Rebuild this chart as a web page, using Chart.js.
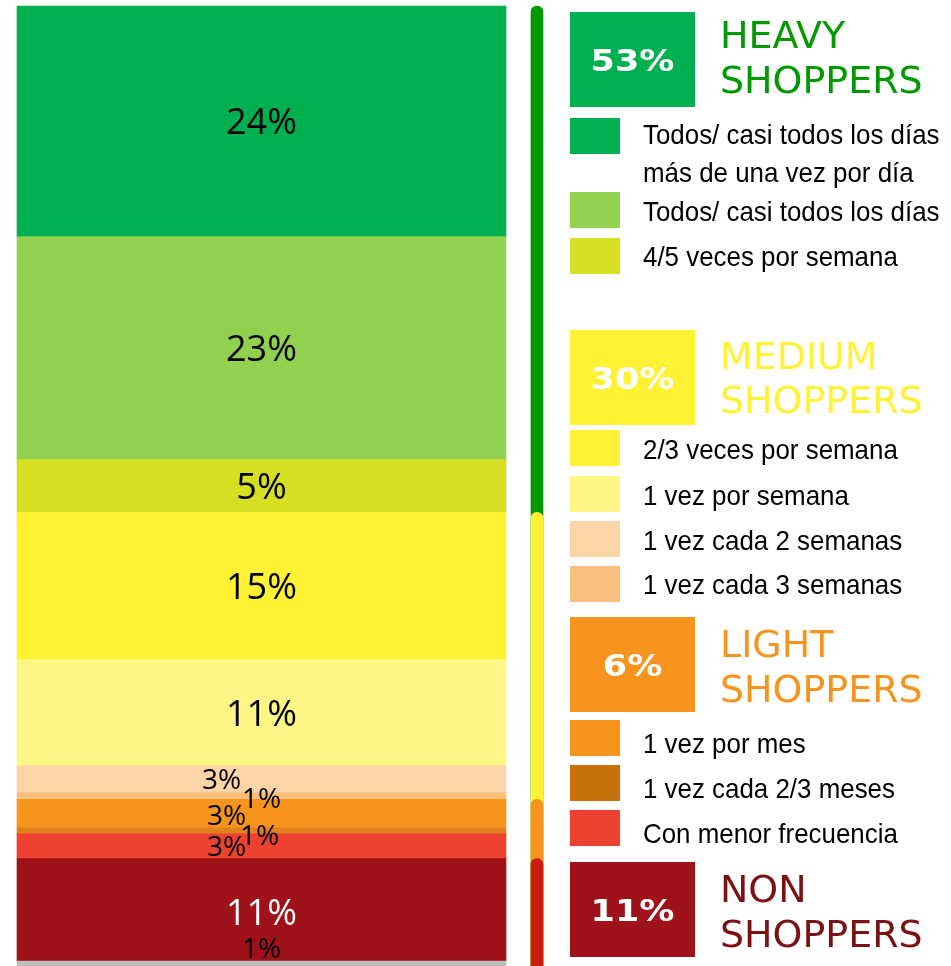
<!DOCTYPE html>
<html>
<head>
<meta charset="utf-8">
<script src="https://cdn.jsdelivr.net/npm/chart.js@4.4.0/dist/chart.umd.min.js"></script>
<style>
  body { margin: 0; background: #fff; }
</style>
</head>
<body>
<canvas id="frecuencia" width="951" height="966"></canvas>
<script>
//DATOS (de arriba hacia abajo, como se ven en la barra)
var categorias = [
    'Todos/ casi todos los días\nmás de una vez por día',
    'Todos/ casi todos los días',
    '4/5 veces por semana',
    '2/3 veces por semana',
    '1 vez por semana',
    '1 vez cada 2 semanas',
    '1 vez cada 3 semanas',
    '1 vez por mes',
    '1 vez cada 2/3 meses',
    'Con menor frecuencia',
    'Non shoppers',
    'Ns/Nc'
];
var valores = [24.1, 23.3, 5.5, 15.4, 11.1, 2.8, 0.7, 3.0, 0.6, 2.6, 10.7, 1.0];
var etiquetas = ['24%', '23%', '5%', '15%', '11%', '3%', '1%', '3%', '1%', '3%', '11%', '1%'];

var grupos = [['HEAVY', 'SHOPPERS'], ['MEDIUM', 'SHOPPERS'], ['LIGHT', 'SHOPPERS'], ['NON', 'SHOPPERS']];
var gruposPct = ['53%', '30%', '6%', '11%'];
var inicioGrupo = [0, 3, 7, 10];   // primer segmento de cada grupo

//COLORES
var colores = ['#00B050', '#92D050', '#D7DF23', '#FFF133', '#FFF685', '#FDD4A6',
               '#F9BF7C', '#F7941D', '#E0811E', '#EE4231', '#A0121A', '#BFBFBF'];
var coloresLeyenda = colores.slice();
coloresLeyenda[8] = '#C8700A';
var colorEtiqueta = ['#000', '#000', '#000', '#000', '#000', '#000', '#000', '#000', '#000', '#000', '#fff', '#000'];
var coloresCaja = ['#00B050', '#FFF133', '#F7941D', '#A0121A'];
var coloresTitulo = ['#009A00', '#FFF133', '#F7941D', '#7A1214'];
var coloresLinea = ['#009A00', '#FFF133', '#F7941D', '#C81E0E'];

//POSICIONES DE ETIQUETAS Y LEYENDA
var despX = [0, 0, 0, 0, 0, -40, 0, -35, -2, -35, 0, 0];
var despY = [0, 0, 0, 0, 0, 0, 2, 1, 4, 0, 2, -18];
var cajaY = [12, 330, 617, 862];
var tituloBase = [[48, 93], [369, 413], [657, 702], [902, 947]];
var muestraY = [118, 192, 238, 430, 476, 521, 566, 720, 765, 810];
var textoBase = [144, 221, 266, 459, 505, 550, 594, 753, 798, 843];

var total = valores.reduce(function (a, b) { return a + b; }, 0);

//DATASETS
var datasets = [];
for (var i = valores.length - 1; i >= 0; i--) {
    datasets.push({
        label: categorias[i],
        data: [valores[i], null],
        backgroundColor: colores[i],
        borderWidth: 0,
        stack: 'barra',
        barThickness: 489,
        clip: false,
        indice: i
    });
}
// linea vertical de cada grupo (el de abajo se dibuja encima)
for (var g = grupos.length - 1; g >= 0; g--) {
    var tope = 0;
    for (var j = inicioGrupo[g]; j < valores.length; j++) tope += valores[j];
    datasets.push({
        label: grupos[g].join(' '),
        data: [null, [0, tope]],
        backgroundColor: coloresLinea[g],
        borderWidth: 0,
        grouped: false,
        barThickness: 12,
        borderRadius: { topLeft: 6, topRight: 6, bottomLeft: 0, bottomRight: 0 },
        borderSkipped: false,
        clip: false
    });
}

var pluginEtiquetas = {
    id: 'etiquetas',
    afterDatasetsDraw: function (chart) {
        var ctx = chart.ctx;
        ctx.save();
        ctx.textAlign = 'center';
        ctx.textBaseline = 'alphabetic';
        chart.data.datasets.forEach(function (ds, n) {
            if (ds.stack !== 'barra') return;
            var k = ds.indice;
            var barra = chart.getDatasetMeta(n).data[0];
            var alto = Math.abs(barra.base - barra.y);
            var size = alto < 40 ? 28 : 36;
            ctx.font = size + 'px "Open Sans"';
            ctx.fillStyle = colorEtiqueta[k];
            var cy = (barra.y + barra.base) / 2 + despY[k];
            ctx.fillText(etiquetas[k], barra.x + despX[k], cy + size * 0.357);
        });
        ctx.restore();
    }
};

function textoEscalado(ctx, txt, x, y, sx) {
    ctx.save();
    ctx.translate(x, y);
    ctx.scale(sx, 1);
    ctx.fillText(txt, 0, 0);
    ctx.restore();
}

var pluginLeyenda = {
    id: 'leyenda',
    afterDraw: function (chart) {
        var ctx = chart.ctx;
        ctx.save();
        for (var g = 0; g < grupos.length; g++) {
            ctx.fillStyle = coloresCaja[g];
            ctx.fillRect(570, cajaY[g], 125, 95);
            ctx.fillStyle = '#fff';
            ctx.font = 'bold 31px "DejaVu Sans"';
            ctx.textAlign = 'center';
            textoEscalado(ctx, gruposPct[g], 632.5, cajaY[g] + 47.5 + 11, 1.13);
            ctx.textAlign = 'left';
            ctx.fillStyle = coloresTitulo[g];
            ctx.font = '37px "DejaVu Sans"';
            textoEscalado(ctx, grupos[g][0], 720, tituloBase[g][0], 1.025);
            textoEscalado(ctx, grupos[g][1], 720, tituloBase[g][1], 1.025);
        }
        ctx.font = '28px "Liberation Sans"';
        ctx.textAlign = 'left';
        for (var k = 0; k < muestraY.length; k++) {
            ctx.fillStyle = coloresLeyenda[k];
            ctx.fillRect(570, muestraY[k], 50, 36);
            ctx.fillStyle = '#000';
            var lineas = categorias[k].split('\n');
            for (var l = 0; l < lineas.length; l++) {
                textoEscalado(ctx, lineas[l], 643, textoBase[k] + l * 38, 0.925);
            }
        }
        ctx.restore();
    }
};

var grafico = new Chart(document.getElementById('frecuencia').getContext('2d'), {
    type: 'bar',
    data: {
        labels: ['barra', 'grupos'],
        datasets: datasets
    },
    options: {
        responsive: false,
        animation: false,
        layout: { padding: { left: 123.75, right: 276.25, top: 6, bottom: 0 } },
        plugins: { legend: { display: false }, tooltip: { enabled: false } },
        scales: {
            x: { display: false },
            y: { display: false, min: 0.48, max: total }
        }
    },
    plugins: [pluginEtiquetas, pluginLeyenda]
});
</script>
</body>
</html>
